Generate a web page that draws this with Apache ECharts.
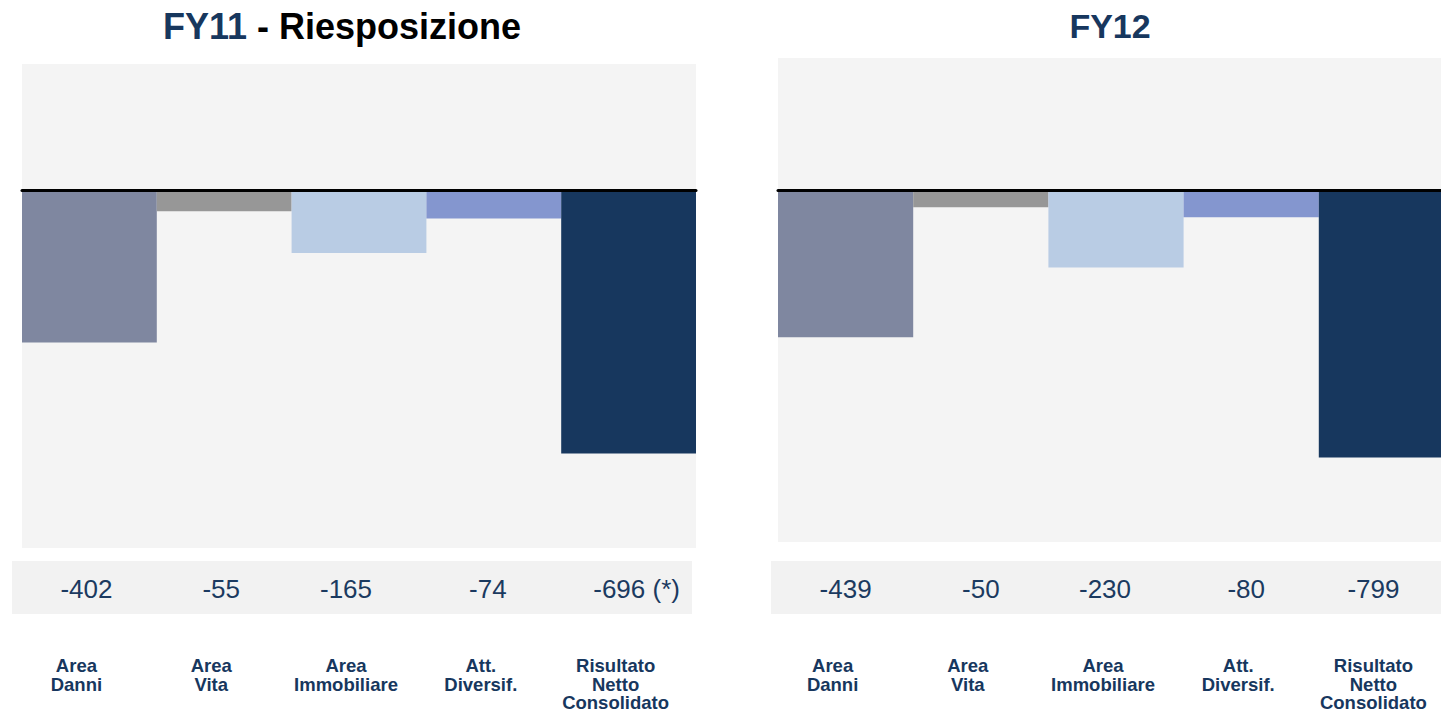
<!DOCTYPE html>
<html>
<head>
<meta charset="utf-8">
<script src="https://cdn.jsdelivr.net/npm/echarts@6/dist/echarts.min.js"></script>
<style>
html,body{margin:0;padding:0;background:#fff;}
#chart{width:1441px;height:712px;}
</style>
</head>
<body>
<div id="chart"></div>
<script>
// ---- data ----
var categories = ['Area\nDanni', 'Area\nVita', 'Area\nImmobiliare', 'Att.\nDiversif.', 'Risultato\nNetto\nConsolidato'];
var fy11Values = [-402, -55, -165, -74, -696];
var fy11Notes = ['', '', '', '', ' (*)'];
var fy12Values = [-439, -50, -230, -80, -799];
var fy12Notes = ['', '', '', '', ''];
var barColors = ['#7f87a0', '#979797', '#b9cce4', '#8496cf', '#17375e'];
var titleLeftMain = 'FY11';
var titleLeftSub = ' - Riesposizione';
var titleRight = 'FY12';

// ---- styling (horizontal nudges of the value row labels, px) ----
var fy11ValueNudge = [-3, -3, -13, -6, 8];
var fy12ValueNudge = [0, 0, -11, -5, -13];

var FONT = '"Liberation Sans", Arial, Helvetica, sans-serif';
var NAVY = '#17375e';

function barData(vals) {
  return vals.map(function (v, i) {
    return { value: v, itemStyle: { color: barColors[i] } };
  });
}
function nudgedCats(nudge) {
  return categories.map(function (c, i) {
    var s = nudge[i];
    var pad = s < 0 ? [0, -2 * s, 0, 0] : [0, 0, 0, 2 * s];
    return { value: c, textStyle: { padding: pad } };
  });
}

var panels = [
  { left: 22, right: 745, top: 64, height: 484, min: -946, max: 335, values: fy11Values, notes: fy11Notes, nudge: fy11ValueNudge },
  { left: 778, right: -13, top: 58, height: 484, min: -1052, max: 397, values: fy12Values, notes: fy12Notes, nudge: fy12ValueNudge }
];

var grids = [], xAxes = [], yAxes = [], series = [];
panels.forEach(function (p, k) {
  grids.push({ left: p.left, right: p.right, top: p.top, height: p.height, show: true,
    backgroundColor: '#f4f4f4', borderWidth: 0, containLabel: false, outerBoundsMode: 'none' });
  var g = grids.length - 1;
  yAxes.push({ type: 'value', gridIndex: g, min: p.min, max: p.max, show: false });
  var yMain = yAxes.length - 1;
  // zero line axis
  xAxes.push({ type: 'category', gridIndex: g, data: categories, position: 'top', z: 10,
    axisLine: { show: true, onZero: true, lineStyle: { color: '#000', width: 3 } },
    axisTick: { show: false }, axisLabel: { show: false }, splitLine: { show: false } });
  var xMain = xAxes.length - 1;
  // value labels axis
  var bottomY = p.top + p.height;
  xAxes.push({ type: 'category', gridIndex: g, data: nudgedCats(p.nudge), position: 'bottom',
    axisLine: { show: false }, axisTick: { show: false }, splitLine: { show: false },
    axisLabel: { show: true, interval: 0, margin: 576 - bottomY, color: '#1b3a60',
      fontFamily: FONT, fontSize: 26, hideOverlap: false,
      formatter: function (val, idx) { return String(p.values[idx]) + p.notes[idx]; } } });
  // category label grid
  grids.push({ left: p.left, right: p.right, top: 640, height: 10, show: false, outerBoundsMode: 'none' });
  var g2 = grids.length - 1;
  yAxes.push({ type: 'value', gridIndex: g2, show: false, min: 0, max: 1 });
  xAxes.push({ type: 'category', gridIndex: g2, data: categories, position: 'bottom',
    axisLine: { show: false }, axisTick: { show: false }, splitLine: { show: false },
    axisLabel: { show: true, interval: 0, margin: 6.5, color: NAVY, fontFamily: FONT, hideOverlap: false,
      fontSize: 18.5, fontWeight: 'bold', lineHeight: 18.5, padding: [0, 26, 0, 0] } });

  series.push({ type: 'bar', xAxisIndex: xMain, yAxisIndex: yMain, data: barData(p.values),
    barCategoryGap: '0%', barGap: '0%', z: 2, silent: true, animation: false });
});

var chart = echarts.init(document.getElementById('chart'), null, { renderer: 'svg' });
chart.setOption({
  animation: false,
  backgroundColor: '#ffffff',
  grid: grids,
  xAxis: xAxes,
  yAxis: yAxes,
  series: series,
  graphic: [
    { type: 'rect', shape: { x: 12, y: 561, width: 680, height: 53 }, style: { fill: '#f2f2f2' }, z: -10, silent: true },
    { type: 'rect', shape: { x: 771, y: 561, width: 670, height: 53 }, style: { fill: '#f2f2f2' }, z: -10, silent: true },
    { type: 'text', x: 342, y: 26, silent: true,
      style: { text: '{a|' + titleLeftMain + '}{b|' + titleLeftSub + '}', align: 'center', verticalAlign: 'middle',
        rich: {
          a: { fontFamily: FONT, fontSize: 36, fontWeight: 'bold', fill: NAVY, color: NAVY },
          b: { fontFamily: FONT, fontSize: 36, fontWeight: 'bold', fill: '#000', color: '#000' }
        } } },
    { type: 'text', x: 1110, y: 26, silent: true,
      style: { text: titleRight, align: 'center', verticalAlign: 'middle', fontFamily: FONT,
        fontSize: 34, fontWeight: 'bold', fill: NAVY } }
  ]
});
</script>
</body>
</html>
